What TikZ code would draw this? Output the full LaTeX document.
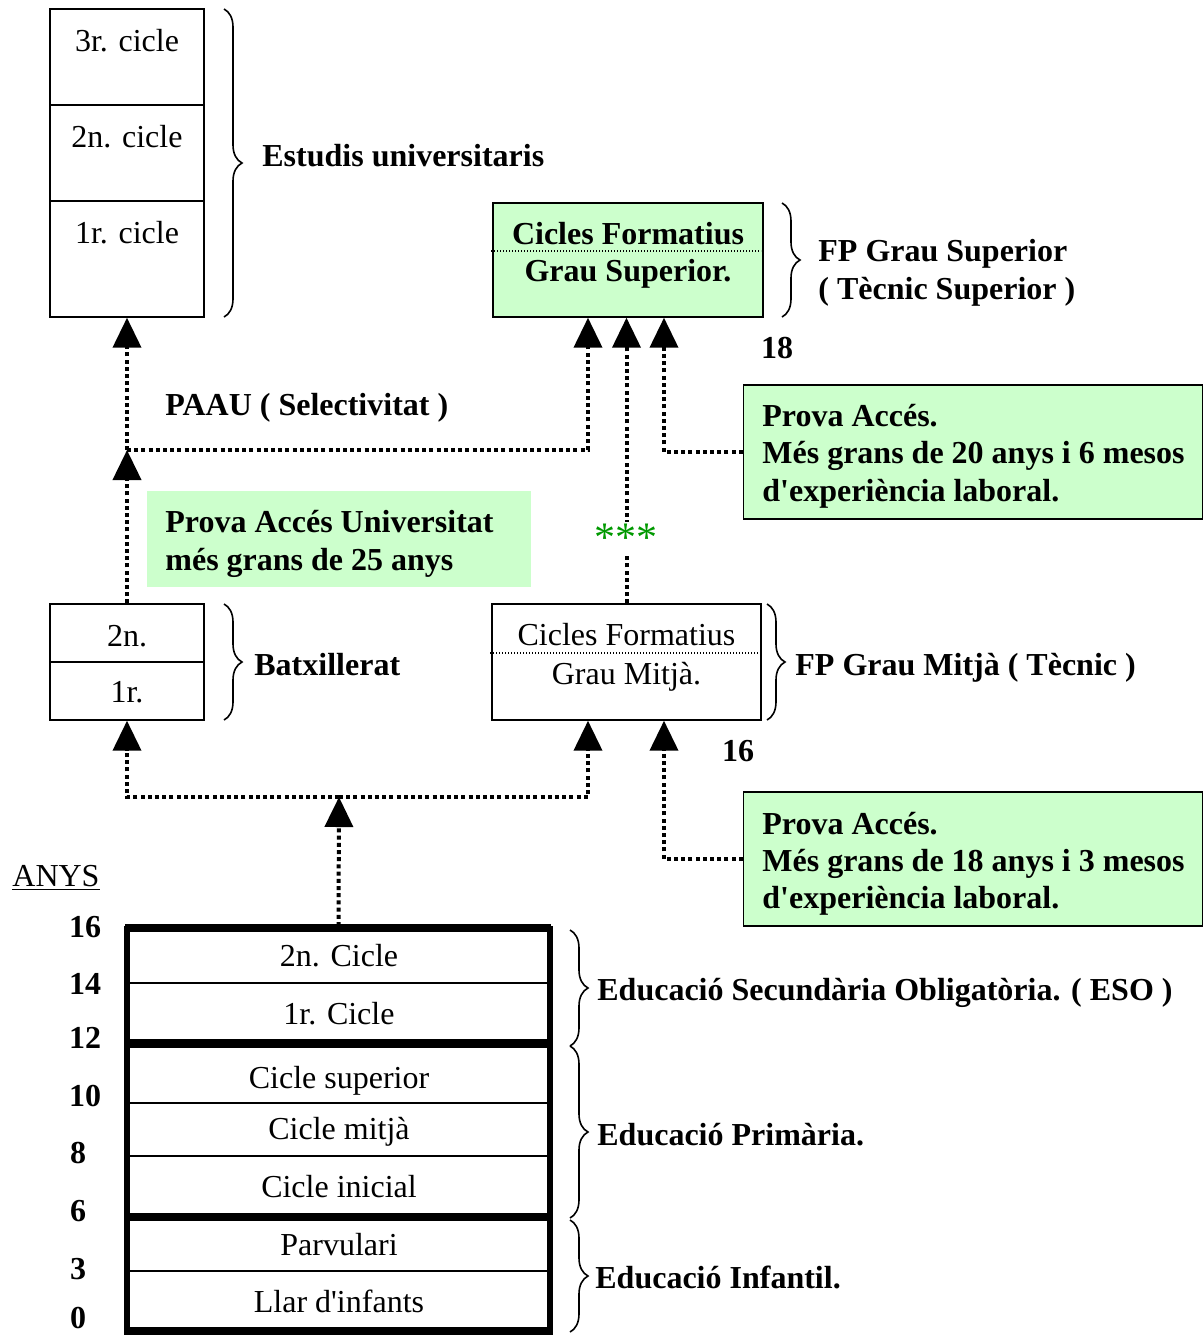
\documentclass[tikz,border=0pt]{standalone}
\usepackage{fontspec}
\setmainfont{Liberation Serif}
\usetikzlibrary{arrows.meta,decorations.pathreplacing,calc}
\definecolor{lgreen}{HTML}{CCFFCC}
\definecolor{stargreen}{HTML}{009900}
\begin{document}
\begin{tikzpicture}[x=0.5pt,y=-0.5pt,
  font=\fontsize{16}{19}\selectfont,
  box/.style={draw,line width=0.7pt,inner sep=0pt},
  txt/.style={inner sep=0pt,anchor=base},
  lbl/.style={inner sep=0pt,anchor=base west,font=\fontsize{16}{19}\selectfont\bfseries},
  age/.style={inner sep=0pt,anchor=base,font=\fontsize{16}{19}\selectfont\bfseries},
  dots/.style={line width=2pt,dash pattern=on 2pt off 1.6pt},
  arr/.style={dots,-{Triangle[length=15pt,width=14pt]}},
  fine/.style={line width=0.6pt,dash pattern=on 0.6pt off 0.9pt},
  brc/.style={decorate,decoration={brace,amplitude=9pt},line width=0.8pt},
  thickbox/.style={draw,line width=3pt,inner sep=0pt,minimum width=211.5pt}]
\useasboundingbox (0,0) rectangle (1203,1335);

% ---------- University stack ----------
\node[box,minimum width=77pt,minimum height=154pt] (uni) at (127,163) {};
\draw[line width=0.7pt] (uni.west |- 0,105) -- (uni.east |- 0,105);
\draw[line width=0.7pt] (uni.west |- 0,201) -- (uni.east |- 0,201);
\node[txt] (u3) at (127,51) {3r. cicle};
\node[txt] (u2) at (127,147) {2n. cicle};
\node[txt] (u1) at (127,243) {1r. cicle};
\draw[brc] (224,9) -- (224,317);
\node[lbl] (estu) at (262,166) {Estudis universitaris};

% ---------- CF Grau Superior ----------
\node[box,fill=lgreen,minimum width=135pt,minimum height=57pt] (cfs) at (628,260) {};
\draw[fine] (491,251) -- (761,251);
\node[txt,font=\fontsize{16}{19}\selectfont\bfseries] (cfs1) at (628,244) {Cicles Formatius};
\node[txt,font=\fontsize{16}{19}\selectfont\bfseries] (cfs2) at (628,281) {Grau Superior.};
\draw[brc] (782,203) -- (782,317);
\node[lbl] (fpgs1) at (818,261) {FP Grau Superior};
\node[lbl] (fpgs2) at (818,299) {( Tècnic Superior )};
\node[age] (a18) at (777,358) {18};

% ---------- Prova accés 20 ----------
\node[box,fill=lgreen,minimum width=229.5pt,minimum height=67pt] (pa20) at (973,452) {};
\node[lbl] (pa20a) at (762,426) {Prova Accés.};
\node[lbl] (pa20b) at (762,463) {Més grans de 20 anys i 6 mesos};
\node[lbl] (pa20c) at (762,501) {d\textquotesingle experiència laboral.};

% ---------- Batxillerat ----------
\node[box,minimum width=77pt,minimum height=58pt] (batx) at (127,662) {};
\draw[line width=0.7pt] (batx.west) -- (batx.east);
\node[txt] (b2) at (127,646) {2n.};
\node[txt] (b1) at (127,702) {1r.};
\draw[brc] (224,604) -- (224,720);
\node[lbl] (batxl) at (254,675) {Batxillerat};

% ---------- PAAU and connectors ----------
\coordinate (j1) at (127,450);
\node[lbl] (paau) at (165,415) {PAAU ( Selectivitat )};
\draw[arr] (batx.north) -- (j1);
\draw[arr] (j1) -- (uni.south);
\draw[arr] (j1) -| ([xshift=-20pt]cfs.south);
\draw[arr] (pa20.west) -| ([xshift=18pt]cfs.south);

% ---------- Prova accés 25 ----------
\node[fill=lgreen,inner sep=0pt,minimum width=192pt,minimum height=48pt] (pa25) at (339,539) {};
\node[lbl] (pa25a) at (165,532) {Prova Accés Universitat};
\node[lbl] (pa25b) at (165,570) {més grans de 25 anys};

% ---------- CF Grau Mitja ----------
\node[box,minimum width=134.5pt,minimum height=58pt] (cfm) at (626.5,662) {};
\draw[fine] (490,653) -- (760,653);
\node[txt] (cfm1) at (626.5,645) {Cicles Formatius};
\node[txt] (cfm2) at (626.5,684) {Grau Mitjà.};
\draw[brc] (767,604) -- (767,720);
\node[lbl] (fpgm) at (795,675) {FP Grau Mitjà ( Tècnic )};
\node[age] (a16b) at (738,761) {16};

\draw[arr] (cfm.north) -- (cfm.north |- cfs.south);
\node[fill=white,inner sep=1pt,text=stargreen,font=\fontsize{21}{24}\selectfont] (stars) at (626,538) {***};

% ---------- Prova accés 18 ----------
\node[box,fill=lgreen,minimum width=229.5pt,minimum height=67pt] (pa18) at (973,859) {};
\node[lbl] (pa18a) at (762,834) {Prova Accés.};
\node[lbl] (pa18b) at (762,871) {Més grans de 18 anys i 3 mesos};
\node[lbl] (pa18c) at (762,908) {d\textquotesingle experiència laboral.};
\draw[arr] (pa18.west) -| ([xshift=18.75pt]cfm.south);

% ---------- Bottom stack ----------
\draw[line width=0.6pt] (125,925) -- (551,925);
\node[thickbox,minimum height=58pt] (eso) at (338.5,987) {};
\node[thickbox,minimum height=87pt] (prim) at (338.5,1131) {};
\node[thickbox,minimum height=57pt] (inf) at (338.5,1275) {};
\draw[line width=0.6pt] (127,1040) -- (550,1040);
\draw[line width=0.6pt] (127,1214) -- (550,1214);
\draw[line width=0.6pt] (127,1328) -- (550,1328);
\draw[line width=0.8pt] (127,983) -- (550,983);
\draw[line width=0.8pt] (127,1103) -- (550,1103);
\draw[line width=0.8pt] (127,1156) -- (550,1156);
\draw[line width=0.8pt] (127,1271) -- (550,1271);
\node[txt] (e2) at (339,966) {2n. Cicle};
\node[txt] (e1) at (339,1024) {1r. Cicle};
\node[txt] (p3) at (339,1088) {Cicle superior};
\node[txt] (p2) at (339,1139) {Cicle mitjà};
\node[txt] (p1) at (339,1197) {Cicle inicial};
\node[txt] (i2) at (339,1255) {Parvulari};
\node[txt] (i1) at (339,1312) {Llar d\textquotesingle infants};

\coordinate (j2) at (339,797);
\draw[arr] (eso.north) -- (j2);
\draw[arr] (j2) -| (batx.south);
\draw[arr] (j2) -| ([xshift=-19.25pt]cfm.south);

\draw[brc] (570,930) -- (570,1046);
\draw[brc] (570,1046) -- (570,1218);
\draw[brc] (570,1220) -- (570,1332);
\node[lbl] (esol) at (597,1000) {Educació Secundària Obligatòria. ( ESO )};
\node[lbl] (priml) at (597,1145) {Educació Primària.};
\node[lbl] (infl) at (595,1288) {Educació Infantil.};

% ---------- Ages ----------
\node[inner sep=0pt,anchor=base west] (anys) at (12,886) {\underline{ANYS}};
\node[age] (g16) at (85,937) {16};
\node[age] (g14) at (85,994) {14};
\node[age] (g12) at (85,1048) {12};
\node[age] (g10) at (85,1106) {10};
\node[age] (g8) at (78,1163) {8};
\node[age] (g6) at (78,1221) {6};
\node[age] (g3) at (78,1279) {3};
\node[age] (g0) at (78,1328) {0};
\end{tikzpicture}
\end{document}
